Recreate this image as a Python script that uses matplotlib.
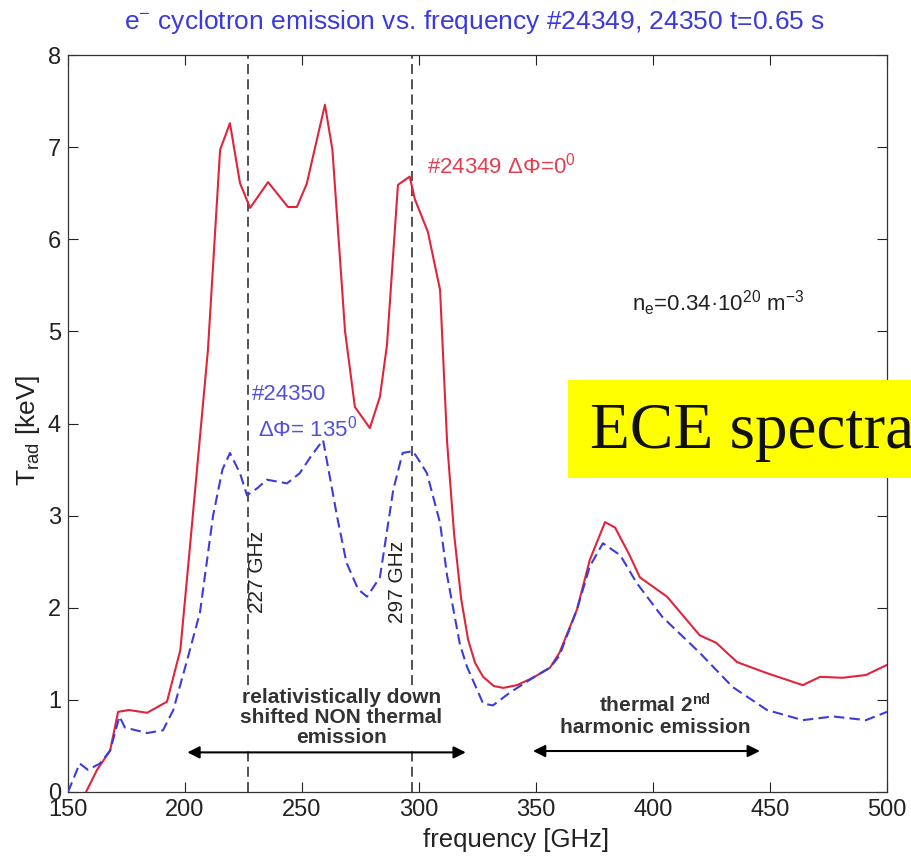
import matplotlib
matplotlib.use("Agg")
import matplotlib.pyplot as plt
from matplotlib.patches import Rectangle

plt.rcParams['font.family'] = ['Liberation Sans', 'DejaVu Sans']
plt.rcParams['mathtext.default'] = 'regular'

# shot #24349, delta phi = 0 deg
freq_24349 = [157.7, 162.4, 168.0, 171.4, 176.0, 183.8, 192.3, 198.0, 202.0, 209.8,
              215.0, 219.2, 223.5, 227.8, 235.5, 244.0, 247.8, 252.0, 259.8, 263.0,
              268.4, 272.6, 279.0, 283.3, 286.3, 291.0, 296.0, 298.3, 303.8, 309.0,
              312.0, 315.0, 318.0, 321.0, 324.0, 327.4, 332.0, 336.0, 341.9, 348.7,
              356.0, 360.0, 367.5, 373.0, 379.5, 383.8, 390.0, 394.4, 406.0, 420.0,
              427.0, 435.9, 448.7, 464.0, 471.4, 481.0, 491.0, 500.0]
trad_24349 = [0.00, 0.24, 0.45, 0.87, 0.89, 0.86, 0.98, 1.54, 2.63, 4.80,
              6.97, 7.26, 6.61, 6.34, 6.62, 6.35, 6.35, 6.60, 7.46, 6.97,
              5.00, 4.18, 3.95, 4.29, 4.85, 6.59, 6.68, 6.43, 6.08, 5.45,
              3.80, 2.80, 2.10, 1.65, 1.40, 1.25, 1.15, 1.13, 1.16, 1.24,
              1.35, 1.51, 1.98, 2.52, 2.93, 2.87, 2.57, 2.33, 2.12, 1.70,
              1.62, 1.41, 1.29, 1.16, 1.25, 1.24, 1.27, 1.38]

# shot #24350, delta phi = 135 deg
freq_24350 = [150.0, 155.0, 158.5, 163.7, 168.0, 172.0, 174.3, 183.8, 190.6, 195.0,
              200.9, 206.4, 212.0, 216.0, 219.2, 223.5, 226.5, 231.0, 235.0, 243.6,
              249.0, 254.0, 259.0, 265.0, 269.0, 274.0, 277.8, 283.3, 289.0, 293.0,
              297.4, 300.0, 303.4, 309.0, 312.0, 317.5, 320.5, 327.4, 331.6, 338.9,
              348.7, 356.0, 360.0, 367.5, 373.0, 378.6, 386.0, 393.0, 404.0, 420.0,
              434.0, 448.7, 464.0, 477.0, 491.0, 500.0]
trad_24350 = [0.00, 0.31, 0.24, 0.31, 0.45, 0.82, 0.70, 0.64, 0.67, 0.89,
              1.43, 1.95, 3.00, 3.50, 3.68, 3.46, 3.22, 3.30, 3.39, 3.35,
              3.46, 3.65, 3.82, 2.99, 2.49, 2.20, 2.12, 2.33, 3.28, 3.68,
              3.70, 3.60, 3.46, 2.92, 2.35, 1.60, 1.36, 0.96, 0.94, 1.08,
              1.24, 1.35, 1.48, 1.98, 2.45, 2.70, 2.57, 2.27, 1.90, 1.51,
              1.14, 0.89, 0.78, 0.82, 0.78, 0.87]

marker_freqs = [227, 297]
marker_labels = ['227 GHz', '297 GHz']
x_ticks = [150, 200, 250, 300, 350, 400, 450, 500]
y_ticks = [0, 1, 2, 3, 4, 5, 6, 7, 8]

W, H = 912, 859
fig = plt.figure(figsize=(W / 100, H / 100), dpi=100)
ax = fig.add_axes([68 / W, 1 - 792 / H, (887 - 68) / W, (792 - 55) / H])

ax.plot(freq_24349, trad_24349, color='#e0243c', lw=1.5, zorder=3)
ax.plot(freq_24350, trad_24350, color='#3c3cdc', lw=1.5, dashes=(5, 2.5), zorder=3)

for f in marker_freqs:
    ax.axvline(f, color='#222222', lw=1.1, dashes=(6.5, 3.5), zorder=2)

ax.set_xlim(150, 500)
ax.set_ylim(0, 8)
ax.set_xticks(x_ticks)
ax.set_yticks(y_ticks)
ax.tick_params(direction='in', length=7, width=0.8, top=True, right=True,
               labelsize=17, pad=5, colors='#222222')
for s in ax.spines.values():
    s.set_color('#333333')
    s.set_linewidth(0.9)

# rotated markers of the two frequencies
ax.text(230.8, 2.39, marker_labels[0], rotation=90, ha='center', va='center',
        fontsize=15, color='#222222')
ax.text(290.6, 2.28, marker_labels[1], rotation=90, ha='center', va='center',
        fontsize=15, color='#222222')

# shot labels
ax.text(303.4, 6.8, '#24349 \u0394\u03a6=0$^0$', color='#e04050', fontsize=16,
        va='center', ha='left')
ax.text(228.6, 4.31, '#24350', color='#5050e0', fontsize=16, va='center', ha='left')
ax.text(231.2, 3.95, '\u0394\u03a6= 135$^0$', color='#5050e0', fontsize=16,
        va='center', ha='left')

ax.text(391, 5.3, 'n$_e$=0.34\u00b710$^{20}$ m$^{-3}$', color='#222222',
        fontsize=16, va='center', ha='left')

# emission regions
ax.text(266.7, 0.81, 'relativistically down\nshifted NON thermal\nemission',
        ha='center', va='center', fontsize=15, fontweight='bold', color='#333333',
        linespacing=1.05, zorder=4,
        bbox=dict(facecolor='white', edgecolor='none', pad=1.0))
ax.annotate('', xy=(201, 0.43), xytext=(320, 0.43),
            arrowprops=dict(arrowstyle='<|-|>', color='black', lw=1.5,
                            mutation_scale=18, shrinkA=0, shrinkB=0))
ax.text(400.9, 0.835, 'thermal 2$^{nd}$\nharmonic emission',
        ha='center', va='center', fontsize=15, fontweight='bold', color='#333333',
        linespacing=1.05, zorder=4)
ax.annotate('', xy=(348.7, 0.445), xytext=(445.7, 0.445),
            arrowprops=dict(arrowstyle='<|-|>', color='black', lw=1.5,
                            mutation_scale=18, shrinkA=0, shrinkB=0))

fig.text(475 / W, 1 - 22 / H,
         'e$^{-}$ cyclotron emission vs. frequency #24349, 24350 t=0.65 s',
         ha='center', va='center', fontsize=19, color='#3a3adf')
fig.text(516 / W, 1 - 840 / H, 'frequency [GHz]', ha='center', va='center',
         fontsize=18.5, color='#222222')
fig.text(28 / W, 1 - 430 / H, 'T$_{rad}$ [keV]', ha='center', va='center',
         rotation=90, fontsize=19, color='#222222')

# yellow slide label on top of the plot
fig.patches.append(Rectangle((568 / W, 1 - 478 / H), (W - 568 + 20) / W, 98 / H,
                             transform=fig.transFigure, facecolor='#ffff00',
                             edgecolor='none', zorder=5))
fig.text(590 / W, 1 - 448 / H, 'ECE spectra', ha='left', va='baseline',
         fontsize=47, family=['Liberation Serif', 'DejaVu Serif'], color='#111111',
         zorder=6)

fig.savefig('out.png', dpi=100)
